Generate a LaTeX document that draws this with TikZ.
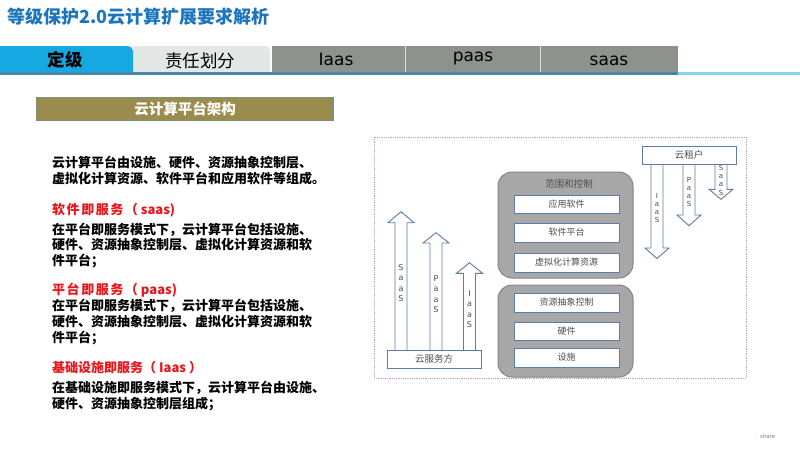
\documentclass[tikz,border=0pt]{standalone}
\usepackage{fontspec}
\setmainfont{Noto Sans CJK SC}
\newfontfamily\latinfont{DejaVu Sans}
\usetikzlibrary{positioning}
\definecolor{titleblue}{HTML}{1C75BC}
\definecolor{tabblue}{HTML}{16A8E0}
\definecolor{tablight}{HTML}{E3E7E5}
\definecolor{tabgray}{HTML}{8E928C}
\definecolor{barblue}{HTML}{4A86AB}
\definecolor{barlight}{HTML}{88D3EF}
\definecolor{olivebg}{HTML}{9A8C4D}
\definecolor{oliveline}{HTML}{7F907A}
\definecolor{headred}{HTML}{E8151B}
\definecolor{layergray}{HTML}{A7A7A7}
\definecolor{layerline}{HTML}{858585}
\definecolor{arrowline}{HTML}{5E7CA6}
\definecolor{labelgray}{HTML}{4D4D4D}
\definecolor{framegray}{HTML}{A4ABB8}

\begin{document}
\begin{tikzpicture}[x=1pt,y=-1pt,
    tabtext/.style={anchor=base, inner sep=0pt, font=\fontsize{17.5}{20}\selectfont},
    bodytext/.style={anchor=north west, align=left, inner sep=0pt, font=\fontsize{13}{15.8}\selectfont\bfseries},
    headtext/.style={anchor=base west, inner sep=0pt, text=headred, font=\fontsize{13}{15.8}\selectfont\bfseries},
    layer/.style={draw=layerline, fill=layergray, rounded corners=14pt, line width=1pt},
    cell/.style={draw=arrowline, fill=white, minimum width=105pt, minimum height=18.5pt, inner sep=0pt, font=\fontsize{9}{10}\selectfont, text=labelgray},
    hollow/.style={draw=arrowline, fill=white, line width=0.9pt, line join=miter},
    stack/.style={align=center, inner sep=0pt, text=labelgray}
  ]
    \useasboundingbox (0,0) rectangle (800,450);
    \fill[white] (0,0) rectangle (800,450);

    % Title
    \node[anchor=base west, inner sep=0pt, text=titleblue, font=\fontsize{18}{20}\selectfont\bfseries] (title) at (7,23) {等级保护2.0云计算扩展要求解析};

    % Tab bar
    \fill[tabgray] (272,46) rectangle (678,72);
    \draw[white!70!tabgray, line width=1pt] (405,46) -- (405,72) (540,46) -- (540,72);
    \fill[tablight] (133,72) -- (133,46) [rounded corners=5pt] -- (270,46) [sharp corners] -- (270,72) -- cycle;
    \fill[tabblue] (0,72) -- (0,46) [rounded corners=5pt] -- (133,46) [sharp corners] -- (133,72) -- cycle;
    \fill[barblue] (0,72) rectangle (678,75);
    \fill[barlight] (678,72) rectangle (800,75);
    \node[tabtext, font=\fontsize{17.5}{20}\selectfont\bfseries] (tabgrade) at (65,66) {定级};
    \node[tabtext] (tabduty) at (200,67.5) {责任划分};
    \node[tabtext, font=\fontsize{17}{20}\latinfont] (tabiaas) at (336,65.7) {Iaas};
    \node[tabtext, font=\fontsize{17}{20}\latinfont] (tabpaas) at (473,61.5) {paas};
    \node[tabtext, font=\fontsize{17}{20}\latinfont] (tabsaas) at (609,65.7) {saas};

    % Section heading
    \node[draw=oliveline, fill=olivebg, line width=1.5pt, minimum width=296pt, minimum height=23pt, inner sep=0pt, text=white, font=\fontsize{14.5}{16}\selectfont\bfseries] (archbox) at (185,109) {云计算平台架构};

    % Left text
    \node[bodytext] (intro) at (52,156) {云计算平台由设施、硬件、资源抽象控制层、\\虚拟化计算资源、软件平台和应用软件等组成。};
    \node[headtext] (saashead) at (52,214) {{\addfontfeature{LetterSpace=12}软件即服务（}\ saas)};
    \node[bodytext] (saasbody) at (52,222.5) {在平台即服务模式下，云计算平台包括设施、\\硬件、资源抽象控制层、虚拟化计算资源和软\\件平台；};
    \node[headtext] (paashead) at (52,294) {{\addfontfeature{LetterSpace=12}平台即服务（}\ paas)};
    \node[bodytext] (paasbody) at (52,299) {在平台即服务模式下，云计算平台包括设施、\\硬件、资源抽象控制层、虚拟化计算资源和软\\件平台；};
    \node[headtext] (iaashead) at (52,372.5) {基础设施即服务（ Iaas ）};
    \node[bodytext] (iaasbody) at (52,381) {在基础设施即服务模式下，云计算平台由设施、\\硬件、资源抽象控制层组成；};

    % Diagram frame
    \draw[framegray, densely dotted, line width=0.8pt] (374,137) rectangle (746,378);

    % Layer stacks
    \draw[layer] (498,172) rectangle (633,278);
    \draw[layer] (498,285) rectangle (633,377);
    \node[inner sep=0pt, font=\fontsize{9.5}{10}\selectfont, text=labelgray] (scope) at (569,184) {范围和控制};
    \node[cell] (appsw) at (566.5,204) {应用软件};
    \node[cell] (platsw) at (566.5,232.5) {软件平台};
    \node[cell] (virtres) at (566.5,262.5) {虚拟化计算资源};
    \node[cell] (abstract) at (566.5,302.5) {资源抽象控制};
    \node[cell] (hardware) at (566.5,331) {硬件};
    \node[cell] (facility) at (566.5,357.5) {设施};

    % Provider arrows (up)
    \foreach \cx/\yh/\yt/\ly/\lbl in {401/222.7/211.7/283/{S\\a\\a\\S}, 436/243/232.7/294/{P\\a\\a\\S}, 469.5/273.3/262.7/309/{I\\a\\a\\S}}{
      \draw[hollow] ({\cx-6},350) -- ({\cx-6},\yh) -- ({\cx-13},\yh) -- (\cx,\yt) -- ({\cx+13},\yh) -- ({\cx+6},\yh) -- ({\cx+6},350);
      \node[stack, font=\fontsize{8}{10.5}\latinfont] at (\cx,\ly) {\lbl};
    }
    \node[draw=arrowline, fill=white, line width=0.9pt, minimum width=94pt, minimum height=18pt, inner sep=0pt, font=\fontsize{9.5}{10}\selectfont, text=labelgray] (provider) at (434,359) {云服务方};

    % Tenant arrows (down)
    \foreach \cx/\yh/\yt/\ly/\lbl in {657/248/258.5/208/{I\\a\\a\\S}, 689/215/225.7/192/{P\\a\\a\\S}, 721/189.3/199.3/180/{S\\a\\a\\S}}{
      \draw[hollow] ({\cx-6},164) -- ({\cx-6},\yh) -- ({\cx-12},\yh) -- (\cx,\yt) -- ({\cx+12},\yh) -- ({\cx+6},\yh) -- ({\cx+6},164);
      \node[stack, font=\fontsize{7}{8.3}\latinfont] at (\cx,\ly) {\lbl};
    }
    \node[draw=arrowline, fill=white, line width=0.9pt, minimum width=94pt, minimum height=18pt, inner sep=0pt, font=\fontsize{9.5}{10}\selectfont, text=labelgray] (tenant) at (689,155) {云租户};

    % Footer
    \node[inner sep=0pt, font=\fontsize{5.5}{6}\latinfont, text=gray] (footer) at (765,436) {.\ \ share};
  \end{tikzpicture}
\end{document}
